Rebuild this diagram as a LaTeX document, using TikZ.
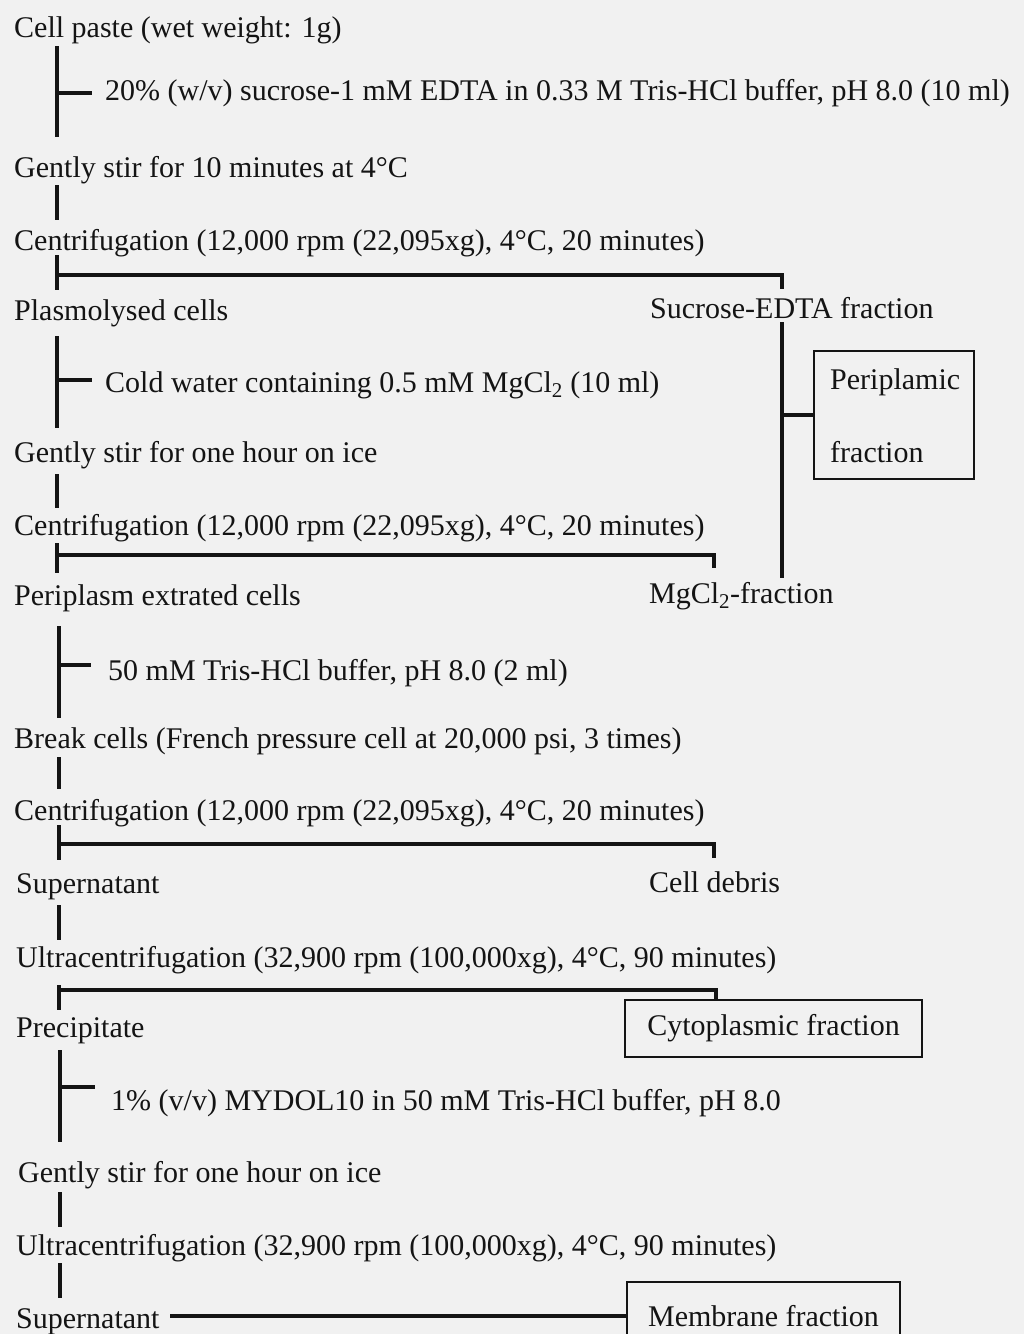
\documentclass[tikz,border=0pt]{standalone}
\usepackage{fontspec}
\setmainfont{Liberation Serif}
\definecolor{ink}{HTML}{141414}
\definecolor{paper}{HTML}{F1F1F1}
\begin{document}
\begin{tikzpicture}[x=1pt,y=-1pt,
  txt/.style={anchor=base west,inner sep=0pt,text=ink,font=\fontsize{30}{36}\selectfont},
  ln/.style={draw=ink,line width=3.4pt},
  fracbox/.style={draw=ink,line width=2.8pt,inner sep=0pt,text=ink,font=\fontsize{30}{36}\selectfont}]
\fill[paper] (0,0) rectangle (1024,1334);
\useasboundingbox (0,0) rectangle (1024,1334);
\clip (0,0) rectangle (1024,1334);

% main column
\node[txt] (t1) at (14,37) {Cell paste (wet weight: 1g)};
\node[txt] (a1) at (105,100) {20\% (w/v) sucrose-1 mM EDTA in 0.33 M Tris-HCl buffer, pH 8.0 (10 ml)};
\node[txt] (t2) at (14,177) {Gently stir for 10 minutes at 4°C};
\node[txt] (t3) at (14,250) {Centrifugation (12,000 rpm (22,095xg), 4°C, 20 minutes)};
\node[txt] (t4) at (14,320) {Plasmolysed cells};
\node[txt] (f1) at (650,318) {Sucrose-EDTA fraction};
\node[txt] (a2) at (105,392) {Cold water containing 0.5 mM MgCl\textsubscript{2} (10 ml)};
\node[txt] (t5) at (14,462) {Gently stir for one hour on ice};
\node[txt] (t6) at (14,535) {Centrifugation (12,000 rpm (22,095xg), 4°C, 20 minutes)};
\node[txt] (t7) at (14,605) {Periplasm extrated cells};
\node[txt] (f2) at (649,603) {MgCl\textsubscript{2}-fraction};
\node[txt] (a3) at (108,680) {50 mM Tris-HCl buffer, pH 8.0 (2 ml)};
\node[txt] (t8) at (14,748) {Break cells (French pressure cell at 20,000 psi, 3 times)};
\node[txt] (t9) at (14,820) {Centrifugation (12,000 rpm (22,095xg), 4°C, 20 minutes)};
\node[txt] (t10) at (16,893) {Supernatant};
\node[txt] (f3) at (649,892) {Cell debris};
\node[txt] (t11) at (16,967) {Ultracentrifugation (32,900 rpm (100,000xg), 4°C, 90 minutes)};
\node[txt] (t12) at (16,1037) {Precipitate};
\node[txt] (a4) at (111,1110) {1\% (v/v) MYDOL10 in 50 mM Tris-HCl buffer, pH 8.0};
\node[txt] (t13) at (18,1182) {Gently stir for one hour on ice};
\node[txt] (t14) at (16,1255) {Ultracentrifugation (32,900 rpm (100,000xg), 4°C, 90 minutes)};
\node[txt] (t15) at (16,1328) {Supernatant};

% boxes
\node[fracbox,minimum width=160pt,minimum height=128pt] (pf) at (894,415) {};
\node[txt] (pf1) at (830,389) {Periplamic};
\node[txt] (pf2) at (830,462) {fraction};
\node[fracbox,minimum width=297pt,minimum height=57pt] (cyt) at (773.5,1028.5) {Cytoplasmic fraction};
\node[fracbox,minimum width=273pt,minimum height=68pt] (mem) at (763.5,1316) {Membrane fraction};

% spine connectors
\coordinate (s1a) at (57,46);   \coordinate (s1b) at (57,137);  \coordinate (k1) at (57,93);
\coordinate (s2a) at (57,185);  \coordinate (s2b) at (57,220);
\coordinate (s3a) at (57,255);  \coordinate (s3b) at (57,290);  \coordinate (h1) at (57,275);
\coordinate (s4a) at (57,336);  \coordinate (s4b) at (57,428);  \coordinate (k2) at (57,380);
\coordinate (s5a) at (57,474);  \coordinate (s5b) at (57,508);
\coordinate (s6a) at (57,543);  \coordinate (s6b) at (57,573);  \coordinate (h2) at (57,555);
\coordinate (s7a) at (59,626);  \coordinate (s7b) at (59,718);  \coordinate (k3) at (59,665);
\coordinate (s8a) at (59,757);  \coordinate (s8b) at (59,789);
\coordinate (s9a) at (59,825);  \coordinate (s9b) at (59,860);  \coordinate (h3) at (59,844);
\coordinate (s10a) at (59,905); \coordinate (s10b) at (59,940);
\coordinate (s11a) at (59,985); \coordinate (s11b) at (59,1010); \coordinate (h4) at (59,990);
\coordinate (s12a) at (60,1050); \coordinate (s12b) at (60,1142); \coordinate (k4) at (60,1087);
\coordinate (s13a) at (60,1192); \coordinate (s13b) at (60,1227);
\coordinate (s14a) at (60,1263); \coordinate (s14b) at (60,1298);
\coordinate (m1) at (170,1316);

\draw[ln] (s1a) -- (s1b); \draw[ln] (k1) -- ++(35,0);
\draw[ln] (s2a) -- (s2b);
\draw[ln] (s3a) -- (s3b); \draw[ln] (h1) -- (782,275) -- (782,289);
\draw[ln] (s4a) -- (s4b); \draw[ln] (k2) -- ++(35,0);
\draw[ln] (s5a) -- (s5b);
\draw[ln] (s6a) -- (s6b); \draw[ln] (h2) -- (714,555) -- (714,568);
\draw[ln] (s7a) -- (s7b); \draw[ln] (k3) -- ++(32,0);
\draw[ln] (s8a) -- (s8b);
\draw[ln] (s9a) -- (s9b); \draw[ln] (h3) -- (714,844) -- (714,858);
\draw[ln] (s10a) -- (s10b);
\draw[ln] (s11a) -- (s11b); \draw[ln] (h4) -- (716,990) -- (716,990 |- cyt.north);
\draw[ln] (s12a) -- (s12b); \draw[ln] (k4) -- ++(35,0);
\draw[ln] (s13a) -- (s13b);
\draw[ln] (s14a) -- (s14b);
\draw[ln] (m1) -- (mem.west);

% periplasmic collector
\draw[ln] (782,322) -- (782,578);
\draw[ln] (782,415) -- (pf.west |- 782,415);
\end{tikzpicture}
\end{document}
